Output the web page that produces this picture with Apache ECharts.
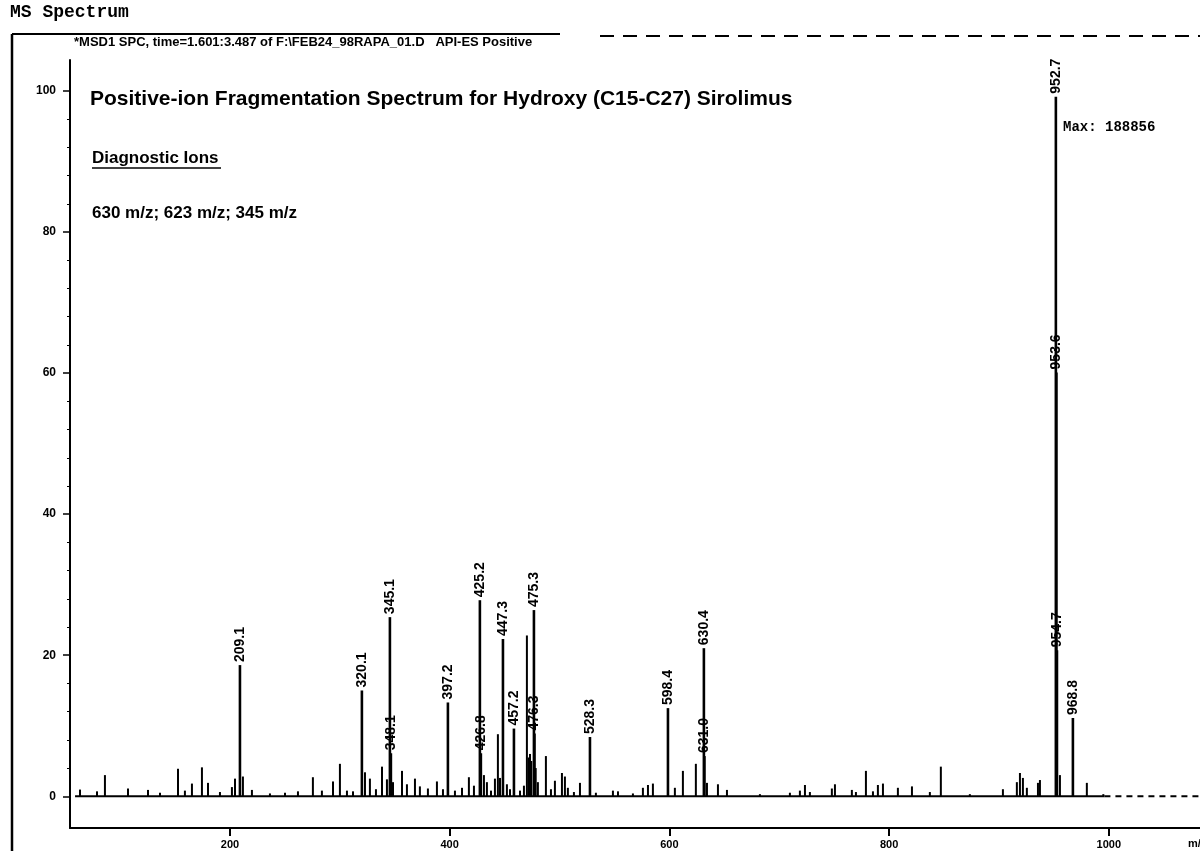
<!DOCTYPE html>
<html><head><meta charset="utf-8">
<script src="https://cdn.jsdelivr.net/npm/echarts@6/dist/echarts.min.js"></script>
<style>html,body{margin:0;padding:0;background:#fff}#c{width:1200px;height:851px}</style>
</head><body><div id="c"></div>
<script>
// Labelled peaks (m/z position, relative abundance %, label as printed)
const labeledMz   = [209.1, 320.1, 345.6, 346.5, 398.4, 427.5, 428.4, 448.5, 458.5, 476.7, 477.2, 527.7, 598.7, 631.4, 631.9, 951.8, 952.3, 952.8, 967.3];
const labeledInt  = [18.6, 15.0, 25.4, 6.1, 13.3, 27.8, 6.1, 22.3, 9.6, 26.4, 8.9, 8.4, 12.5, 21.0, 5.7, 99.2, 60.1, 20.7, 11.1];
const labeledText = ["209.1", "320.1", "345.1", "348.1", "397.2", "425.2", "426.8", "447.3", "457.2", "475.3", "476.3", "528.3", "598.4", "630.4", "631.0", "952.7", "953.6", "954.7", "968.8"];

// Unlabelled peaks (m/z, relative abundance %)
const minorMz  = [63.5, 79.0, 86.2, 107.2, 125.4, 136.3, 152.7, 159.0, 165.4, 174.5, 180.0, 190.9, 201.8, 204.6, 211.8, 220.0, 236.4, 250.1, 261.9, 275.5, 283.7, 293.8, 300.1, 306.5, 312.0, 322.9, 327.4, 332.9, 338.4, 342.9, 348.4, 356.6, 361.1, 368.4, 372.9, 380.2, 388.4, 393.9, 404.8, 411.2, 417.5, 422.1, 431.2, 433.9, 437.6, 441.2, 443.9, 445.8, 452.1, 454.9, 464.0, 467.6, 470.3, 471.9, 473.1, 474.3, 478.3, 480.3, 487.6, 492.2, 495.8, 502.2, 504.9, 507.6, 513.1, 518.6, 533.1, 548.6, 553.2, 566.8, 575.9, 580.5, 585.0, 605.0, 612.3, 624.1, 634.2, 644.2, 652.4, 682.4, 709.7, 718.8, 723.4, 727.9, 747.9, 750.7, 766.1, 769.8, 778.9, 785.3, 789.8, 794.4, 808.0, 820.8, 837.1, 847.1, 873.5, 903.6, 916.3, 919.1, 921.8, 925.4, 935.5, 937.3, 955.5, 980.0, 995.0];
const minorInt = [0.95, 0.7, 3.0, 1.1, 0.9, 0.5, 3.9, 0.8, 1.8, 4.1, 1.9, 0.6, 1.3, 2.5, 2.8, 0.9, 0.4, 0.5, 0.7, 2.7, 0.8, 2.1, 4.6, 0.8, 0.7, 3.4, 2.5, 1.0, 4.2, 2.4, 2.0, 3.6, 1.7, 2.5, 1.4, 1.1, 2.1, 1.0, 0.8, 1.2, 2.7, 1.5, 3.0, 2.0, 0.8, 2.5, 8.8, 2.6, 1.7, 1.0, 0.8, 1.5, 22.8, 5.5, 6.0, 5.0, 4.0, 2.0, 5.7, 1.0, 2.2, 3.3, 2.8, 1.2, 0.6, 1.9, 0.5, 0.8, 0.7, 0.4, 1.2, 1.6, 1.8, 1.2, 3.6, 4.6, 1.9, 1.7, 0.9, 0.3, 0.5, 0.8, 1.6, 0.6, 1.1, 1.7, 0.9, 0.6, 3.6, 0.7, 1.6, 1.8, 1.2, 1.4, 0.6, 4.2, 0.3, 1.0, 2.0, 3.3, 2.6, 1.2, 1.9, 2.3, 3.0, 1.9, 0.3];

const yTickValues = [0, 20, 40, 60, 80, 100];
const yMinorTickValues = [4, 8, 12, 16, 24, 28, 32, 36, 44, 48, 52, 56, 64, 68, 72, 76, 84, 88, 92, 96];
const xTickValues = [200, 400, 600, 800, 1000];
const baselineSolid = [59, 996];
const baselineDashed = [996, 1083];

const chart = echarts.init(document.getElementById('c'), null, {renderer: 'canvas'});

function stick(lw) {
  return function (params, api) {
    const x = api.value(0), y = api.value(1);
    const p0 = api.coord([x, 0]), p1 = api.coord([x, y]);
    return {type: 'line', shape: {x1: p0[0], y1: p0[1], x2: p1[0], y2: p1[1]},
            style: {stroke: '#000', lineWidth: lw}};
  };
}

const bold = 'Liberation Sans, Arial, sans-serif';

chart.setOption({
  animation: false,
  backgroundColor: '#fff',
  grid: {left: 70, right: 0, top: 60, bottom: 23, containLabel: false},
  xAxis: {
    type: 'value', min: 54.4, max: 1083,
    axisLine: {show: true, onZero: false, lineStyle: {color: '#000', width: 2}},
    axisTick: {show: true, customValues: xTickValues, length: 8, lineStyle: {color: '#000', width: 2}},
    axisLabel: {customValues: xTickValues, formatter: v => String(v), color: '#000', fontWeight: 'bold', fontSize: 11, fontFamily: bold, margin: 11},
    splitLine: {show: false}
  },
  yAxis: [{
    type: 'value', min: -4.5, max: 104.4,
    axisLine: {show: true, onZero: false, lineStyle: {color: '#000', width: 2}},
    axisTick: {show: true, customValues: yTickValues, length: 7, lineStyle: {color: '#000', width: 1.5}},
    axisLabel: {customValues: yTickValues, formatter: v => String(v), color: '#000', fontWeight: 'bold', fontSize: 12, fontFamily: bold, margin: 14},
    splitLine: {show: false}
  }, {
    type: 'value', min: -4.5, max: 104.4, position: 'left',
    axisLine: {show: false},
    axisTick: {show: true, customValues: yMinorTickValues, length: 3, lineStyle: {color: '#000', width: 1}},
    axisLabel: {show: false},
    splitLine: {show: false}
  }],
  series: [
    {type: 'line', data: baselineSolid.map(v => [v, 0]), symbol: 'none', silent: true,
     lineStyle: {color: '#000', width: 2}},
    {type: 'line', data: baselineDashed.map(v => [v, 0]), symbol: 'none', silent: true,
     lineStyle: {color: '#000', width: 2, type: [6, 5]}},
    {type: 'custom', renderItem: stick(2), data: minorMz.map((m, i) => [m, minorInt[i]])},
    {type: 'custom', renderItem: stick(2.6), data: labeledMz.map((m, i) => [m, labeledInt[i]])},
    {type: 'custom', data: labeledMz.map((m, i) => [m, labeledInt[i]]),
     renderItem: function (params, api) {
       const p = api.coord([api.value(0), api.value(1)]);
       return {type: 'text', x: p[0], y: p[1] - 3, rotation: Math.PI / 2,
               style: {text: labeledText[params.dataIndex], fill: '#000',
                       font: 'bold 14px ' + bold, align: 'left', verticalAlign: 'middle'}};
     }}
  ],
  graphic: [
    {type: 'text', left: 10, top: 3, style: {text: 'MS Spectrum', fill: '#000', font: 'bold 18px "Liberation Mono", monospace'}},
    {type: 'line', shape: {x1: 12, y1: 34, x2: 560, y2: 34}, style: {stroke: '#000', lineWidth: 2}},
    {type: 'line', shape: {x1: 600, y1: 36, x2: 1200, y2: 36}, style: {stroke: '#000', lineWidth: 2, lineDash: [14, 9]}},
    {type: 'line', shape: {x1: 12, y1: 34, x2: 12, y2: 851}, style: {stroke: '#000', lineWidth: 2.5}},
    {type: 'text', left: 74, top: 36, style: {text: '*MSD1 SPC, time=1.601:3.487 of F:\\FEB24_98RAPA_01.D   API-ES Positive', fill: '#000', font: 'bold 13px ' + bold}},
    {type: 'text', left: 90, top: 89, style: {text: 'Positive-ion Fragmentation Spectrum for Hydroxy (C15-C27) Sirolimus', fill: '#000', font: 'bold 21px ' + bold}},
    {type: 'text', left: 92, top: 150, style: {text: 'Diagnostic Ions', fill: '#000', font: 'bold 17px ' + bold}},
    {type: 'line', shape: {x1: 92, y1: 168, x2: 221, y2: 168}, style: {stroke: '#000', lineWidth: 1.5}},
    {type: 'text', left: 92, top: 205, style: {text: '630 m/z; 623 m/z; 345 m/z', fill: '#000', font: 'bold 17px ' + bold}},
    {type: 'text', left: 1063, top: 120, style: {text: 'Max: 188856', fill: '#000', font: 'bold 14px "Liberation Mono", monospace'}},
    {type: 'text', left: 1188, top: 838, style: {text: 'm/z', fill: '#000', font: 'bold 11px ' + bold}}
  ]
});
</script></body></html>
